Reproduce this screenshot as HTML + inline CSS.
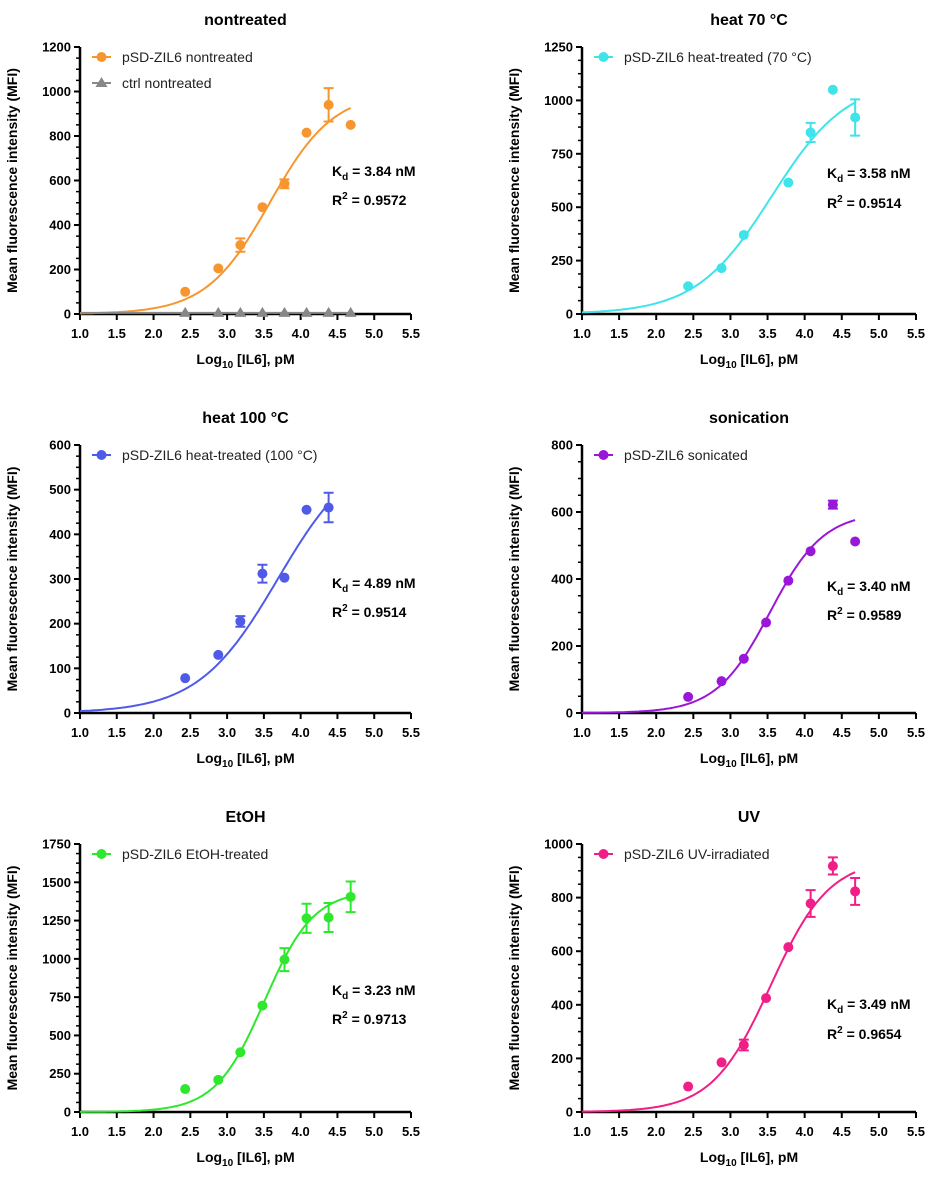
<!DOCTYPE html>
<html><head><meta charset="utf-8"><style>
body{margin:0;background:#fff;font-family:"Liberation Sans",Arial,sans-serif}
svg text{font-family:"Liberation Sans",Arial,sans-serif}
</style></head><body>
<svg id="fig" width="935" height="1176" viewBox="0 0 935 1176" xmlns="http://www.w3.org/2000/svg"></svg>
<script>
const xTickLabels=["1.0","1.5","2.0","2.5","3.0","3.5","4.0","4.5","5.0","5.5"];
const concLog=[2.43,2.88,3.18,3.48,3.78,4.08,4.38,4.68];
// per-panel data
const p1Vals=[100,205,310,480,585,815,940,850];
const p1Err=[0,0,30,0,20,0,75,0];
const p1Ctrl=[5,5,5,5,5,5,5,5];
const p2X=[2.43,2.88,3.18,3.78,4.08,4.38,4.68];
const p2Vals=[130,215,370,615,850,1050,920];
const p2Err=[0,0,0,0,45,0,85];
const p3X=[2.43,2.88,3.18,3.48,3.78,4.08,4.38];
const p3Vals=[78,130,205,312,303,455,460];
const p3Err=[0,0,12,20,0,0,33];
const p4Vals=[48,95,162,270,395,483,622,512];
const p4Err=[0,0,0,0,0,0,12,0];
const p5Vals=[150,210,390,695,995,1265,1270,1405];
const p5Err=[0,0,0,0,75,95,95,100];
const p6Vals=[95,185,250,425,615,778,918,823];
const p6Err=[0,0,20,0,0,50,32,50];
const yTicks1=[0,200,400,600,800,1000,1200];
const yTicks2=[0,250,500,750,1000,1250];
const yTicks3=[0,100,200,300,400,500,600];
const yTicks4=[0,200,400,600,800];
const yTicks5=[0,250,500,750,1000,1250,1500,1750];
const yTicks6=[0,200,400,600,800,1000];
const fitTop=[1000,1100,600,600,1450,945];
const fitLogEC=[3.58,3.554,3.689,3.531,3.509,3.543];
const fitHill=[1.0,0.85,0.8,1.2,1.3,1.1];
const kdText=["3.84","3.58","4.89","3.40","3.23","3.49"];
const r2Text=["0.9572","0.9514","0.9514","0.9589","0.9713","0.9654"];

const NS="http://www.w3.org/2000/svg";
const svg=document.getElementById('fig');
function mk(tag,attrs,parent){const e=document.createElementNS(NS,tag);for(const k in attrs)e.setAttribute(k,attrs[k]);(parent||svg).appendChild(e);return e;}

const panels=[
 {title:"nontreated",x0:80,x1:411,y0:314,y1:47,ticks:yTicks1,xs:concLog,vals:p1Vals,err:p1Err,col:"#f7962f",leg:"pSD-ZIL6 nontreated",kdy:171,r2y:200,ctrl:true},
 {title:"heat 70 °C",x0:582,x1:916,y0:314,y1:47,ticks:yTicks2,xs:p2X,vals:p2Vals,err:p2Err,col:"#3fe3ea",leg:"pSD-ZIL6 heat-treated (70 °C)",kdy:173,r2y:203},
 {title:"heat 100 °C",x0:80,x1:411,y0:713,y1:445,ticks:yTicks3,xs:p3X,vals:p3Vals,err:p3Err,col:"#4f5be8",leg:"pSD-ZIL6 heat-treated (100 °C)",kdy:583,r2y:612},
 {title:"sonication",x0:582,x1:916,y0:713,y1:445,ticks:yTicks4,xs:concLog,vals:p4Vals,err:p4Err,col:"#9a17d8",leg:"pSD-ZIL6 sonicated",kdy:586,r2y:615},
 {title:"EtOH",x0:80,x1:411,y0:1112,y1:844,ticks:yTicks5,xs:concLog,vals:p5Vals,err:p5Err,col:"#2ee82e",leg:"pSD-ZIL6 EtOH-treated",kdy:990,r2y:1019},
 {title:"UV",x0:582,x1:916,y0:1112,y1:844,ticks:yTicks6,xs:concLog,vals:p6Vals,err:p6Err,col:"#f01e86",leg:"pSD-ZIL6 UV-irradiated",kdy:1004,r2y:1034}
];

panels.forEach((p,i)=>{
 const g=mk('g',{});
 
 
 const ymax=p.ticks[p.ticks.length-1];
 const X=v=>p.x0+(v-1)/4.5*(p.x1-p.x0);
 const Y=v=>p.y0-(v/ymax)*(p.y0-p.y1);
 const cx=(p.x0+p.x1)/2;
 const t=mk('text',{x:cx,y:p.y1-22,'text-anchor':'middle','font-size':16,'font-weight':'bold'},g);t.textContent=p.title;
 
 
 const ax=mk('path',{d:`M${p.x0} ${p.y1}V${p.y0}H${p.x1}`,stroke:'#000','stroke-width':2.5,fill:'none'},g);
 
 
 p.ticks.forEach((v,k)=>{
  mk('line',{x1:p.x0-6,x2:p.x0,y1:Y(v),y2:Y(v),stroke:'#000','stroke-width':2},g);
  const l=mk('text',{x:p.x0-9,y:Y(v)+4.5,'text-anchor':'end','font-size':13,'font-weight':'bold'},g);l.textContent=v;
  
  
  if(k<p.ticks.length-1){const step=(p.ticks[1]-p.ticks[0])/4;for(let m=1;m<4;m++)mk('line',{x1:p.x0-4,x2:p.x0,y1:Y(v+m*step),y2:Y(v+m*step),stroke:'#000','stroke-width':1.5},g);}
 });
 xTickLabels.forEach(s=>{
  const v=parseFloat(s);
  mk('line',{x1:X(v),x2:X(v),y1:p.y0,y2:p.y0+6,stroke:'#000','stroke-width':2},g);
  const l=mk('text',{x:X(v),y:p.y0+24,'text-anchor':'middle','font-size':13,'font-weight':'bold'},g);l.textContent=s;
  
  
 });
 const xt=mk('text',{x:cx,y:p.y0+50,'text-anchor':'middle','font-size':14,'font-weight':'bold'},g);
 xt.innerHTML='Log<tspan font-size="10" dy="4">10</tspan><tspan dy="-4"> [IL6], pM</tspan>';
 
 
 const yx=p.x0-63, yy=(p.y0+p.y1)/2;
 const yt=mk('text',{x:yx,y:yy,'text-anchor':'middle','font-size':14,'font-weight':'bold',transform:`rotate(-90 ${yx} ${yy})`},g);
 yt.textContent='Mean fluorescence intensity (MFI)';
 
 
 let d='';const xe=p.xs[p.xs.length-1];
 for(let k=0;k<=120;k++){const xv=1+(xe-1)*k/120;const yv=fitTop[i]/(1+Math.pow(10,(fitLogEC[i]-xv)*fitHill[i]));d+=(k?'L':'M')+X(xv).toFixed(1)+' '+Y(yv).toFixed(1);}
 const fc=mk('path',{d:d,stroke:p.col,'stroke-width':2,fill:'none'},g);
 
 
 if(p.ctrl){
  mk('line',{x1:X(1),x2:X(concLog[concLog.length-1]),y1:Y(p1Ctrl[0]),y2:Y(p1Ctrl[0]),stroke:'#888','stroke-width':2},g);
  concLog.forEach((xv,k)=>{const px=X(xv),py=Y(p1Ctrl[k]);
   const tri=mk('path',{d:`M${px} ${py-6}L${px+6} ${py+4}L${px-6} ${py+4}Z`,fill:'#888'},g);
   
   });
 }
 p.xs.forEach((xv,k)=>{
  const px=X(xv),py=Y(p.vals[k]);const e=p.err[k];
  if(e>0){mk('path',{d:`M${px} ${Y(p.vals[k]+e)}V${Y(p.vals[k]-e)}M${px-5} ${Y(p.vals[k]+e)}h10M${px-5} ${Y(p.vals[k]-e)}h10`,stroke:p.col,'stroke-width':2,fill:'none'},g);}
  const c=mk('circle',{cx:px,cy:py,r:5,fill:p.col},g);
  
  
 });
 const lx=p.x0+12, ly=p.y1+10;
 mk('line',{x1:lx,x2:lx+19,y1:ly,y2:ly,stroke:p.col,'stroke-width':2},g);
 mk('circle',{cx:lx+9.5,cy:ly,r:5,fill:p.col},g);
 const lt=mk('text',{x:lx+30,y:ly+5,'font-size':14,fill:'#222'},g);lt.textContent=p.leg;
 
 
 if(p.ctrl){const ly2=ly+26;
  mk('line',{x1:lx,x2:lx+19,y1:ly2,y2:ly2,stroke:'#888','stroke-width':2},g);
  mk('path',{d:`M${lx+9.5} ${ly2-6}L${lx+15.5} ${ly2+4}L${lx+3.5} ${ly2+4}Z`,fill:'#888'},g);
  const lt2=mk('text',{x:lx+30,y:ly2+5,'font-size':14,fill:'#222'},g);lt2.textContent='ctrl nontreated';
  
  }
 const kx=p.x0+(i%2?245:252);
 const kd=mk('text',{x:kx,y:p.kdy+5,'font-size':14,'font-weight':'bold'},g);
 kd.innerHTML='K<tspan font-size="10" dy="4">d</tspan><tspan dy="-4"> = '+kdText[i]+' nM</tspan>';
 
 
 const r2=mk('text',{x:kx,y:p.r2y+5,'font-size':14,'font-weight':'bold'},g);
 r2.innerHTML='R<tspan font-size="10" dy="-6">2</tspan><tspan dy="6"> = '+r2Text[i]+'</tspan>';
 
 
});
</script>
</body></html>
